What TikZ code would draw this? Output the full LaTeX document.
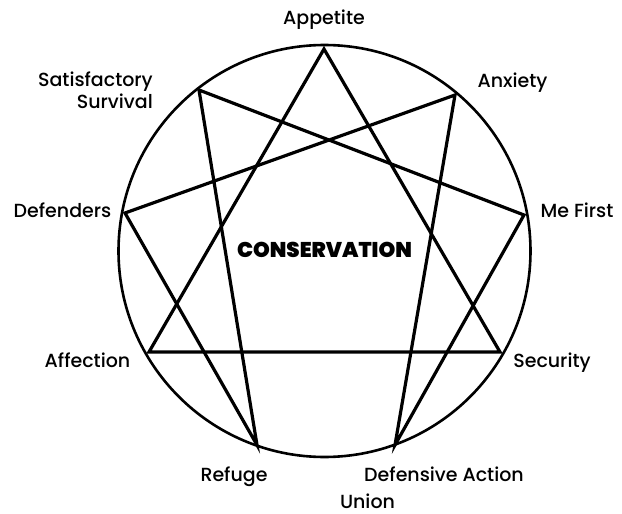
\documentclass[tikz,border=0pt]{standalone}
\usepackage{fontspec}
\setmainfont{Poppins}
\IfFontExistsTF{Poppins Medium}{\newfontfamily\medfont{Poppins Medium}}{\newfontfamily\medfont[FakeBold=0.6]{Poppins}}
\IfFontExistsTF{Poppins Black}{\newfontfamily\heavyfont{Poppins Black}}{\newfontfamily\heavyfont[FakeBold=1.2]{Poppins Bold}}
\begin{document}
\begin{tikzpicture}[x=1pt,y=-1pt,
  lbl/.style={font=\medfont\fontsize{19}{21}\selectfont, inner sep=0pt},
  star/.style={line width=3.2pt, line join=miter},
  ring/.style={line width=2.6pt}]
\useasboundingbox[fill=white] (0,0) rectangle (622,514);
\coordinate (c) at (324.5,251);
\coordinate (p9) at (324,49);
\coordinate (p1) at (455,95);
\coordinate (p2) at (524,215);
\coordinate (p3) at (500,352);
\coordinate (p4) at (395,445);
\coordinate (p5) at (257,445);
\coordinate (p6) at (149,352);
\coordinate (p7) at (125,213);
\coordinate (p8) at (199,90);
\draw[ring] (c) circle[radius=206];
\draw[star] (p9) -- (p3) -- (p6) -- cycle;
\draw[star] (p1) -- (p4) -- (p2) -- (p8) -- (p5) -- (p7) -- cycle;
\node[lbl, anchor=base] (l9) at (324,24) {Appetite};
\node[lbl, anchor=base] (l1) at (512.5,87) {Anxiety};
\node[lbl, anchor=base east, align=right] (l8a) at (153,86) {Satisfactory};
\node[lbl, anchor=base east] (l8b) at (153,108) {Survival};
\node[lbl, anchor=base] (l7) at (62.5,217) {Defenders};
\node[lbl, anchor=base] (l2) at (577,217) {Me First};
\node[lbl, anchor=base] (l6) at (87.5,367) {Affection};
\node[lbl, anchor=base] (l3) at (552,367) {Security};
\node[lbl, anchor=base] (l5) at (234,481) {Refuge};
\node[lbl, anchor=base] (l4) at (444,481) {Defensive Action};
\node[lbl, anchor=base] (lu) at (367.5,508) {Union};
\node[font=\heavyfont\fontsize{21.3}{23}\selectfont, inner sep=0pt, anchor=base] (lc) at (324.5,257.5) {CONSERVATION};
\end{tikzpicture}
\end{document}
